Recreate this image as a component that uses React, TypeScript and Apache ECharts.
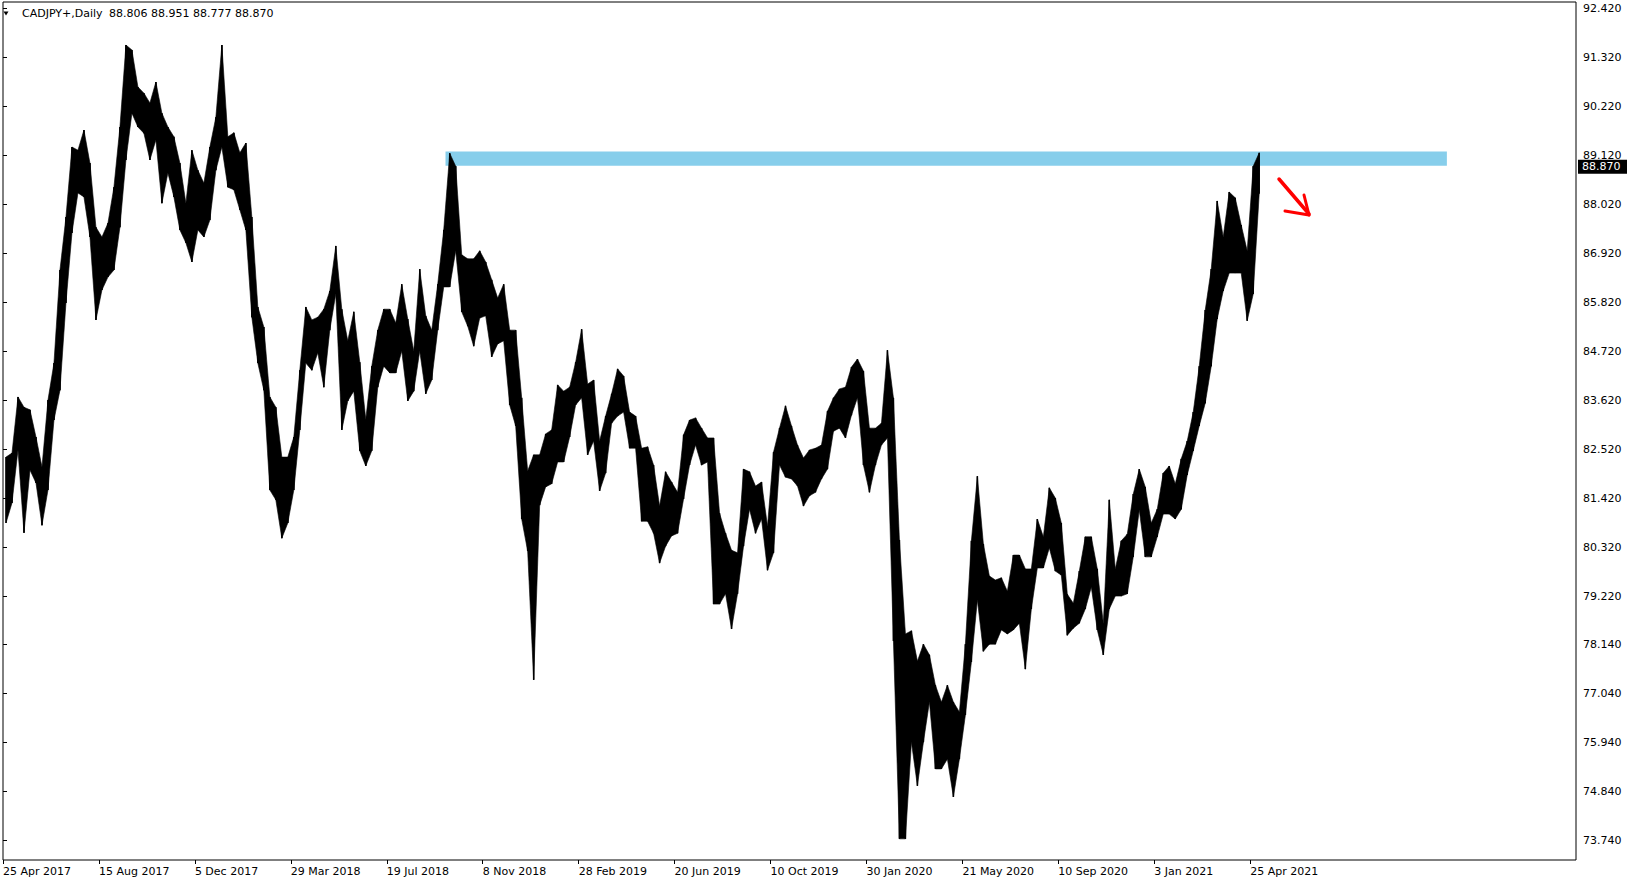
import React, { useEffect, useRef } from 'react';
import * as echarts from 'echarts';

// ---- data ----
const symbolTitle = 'CADJPY+,Daily';
const ohlcHeader = ['88.806', '88.951', '88.777', '88.870'];
const lastClose = 88.87;

// x-axis date labels, one every 16 samples
const dateLabels = [
  '25 Apr 2017', '15 Aug 2017', '5 Dec 2017', '29 Mar 2018', '19 Jul 2018', '8 Nov 2018',
  '28 Feb 2019', '20 Jun 2019', '10 Oct 2019', '30 Jan 2020', '21 May 2020', '10 Sep 2020',
  '3 Jan 2021', '25 Apr 2021',
];
const samplesPerLabel = 16;

// price-axis tick labels
const priceTicks = [
  73.74, 74.84, 75.94, 77.04, 78.14, 79.22, 80.32, 81.42, 82.52, 83.62, 84.72, 85.82,
  86.92, 88.02, 89.12, 90.22, 91.32, 92.42,
];

// sampled highs / lows (about one per week)
const highs = [
  82.35, 82.44, 83.70, 83.47, 83.41, 82.80, 82.13, 83.63, 84.46, 86.55,
  87.74, 89.31, 89.24, 89.69, 88.95, 87.51, 87.29, 87.60, 88.41, 89.76,
  91.60, 91.49, 90.66, 90.52, 90.30, 90.77, 90.07, 89.76, 89.54, 88.95,
  88.05, 89.24, 88.79, 88.50, 89.31, 89.98, 91.60, 89.54, 89.63, 89.18,
  89.40, 87.74, 85.72, 85.27, 83.70, 83.47, 82.35, 82.35, 82.80, 84.30,
  85.72, 85.43, 85.49, 85.67, 86.08, 87.09, 85.67, 84.96, 85.61, 84.48,
  83.20, 84.39, 85.20, 85.67, 85.67, 85.36, 86.23, 85.45, 84.73, 86.57,
  85.52, 85.20, 86.23, 87.45, 89.17, 88.88, 86.89, 86.80, 86.80, 86.98,
  86.73, 86.33, 85.92, 86.23, 85.20, 85.20, 83.68, 82.04, 82.40, 82.40,
  82.87, 82.96, 83.97, 83.83, 83.92, 84.48, 85.22, 83.99, 84.08, 82.71,
  83.27, 83.77, 84.33, 84.17, 83.36, 83.27, 82.55, 82.58, 82.17, 81.25,
  82.02, 81.79, 81.56, 82.85, 83.18, 83.23, 83.00, 82.78, 82.78, 81.09,
  80.64, 80.26, 80.20, 82.08, 82.02, 81.70, 81.79, 80.80, 82.46, 83.00,
  83.50, 83.05, 82.62, 82.33, 82.51, 82.55, 82.62, 83.38, 83.68, 83.88,
  83.92, 84.37, 84.55, 84.28, 83.00, 83.00, 83.11, 84.75, 83.68, 80.49,
  78.38, 78.45, 77.77, 78.15, 77.91, 77.23, 76.85, 77.23, 76.85, 76.63,
  78.15, 80.47, 81.92, 80.40, 79.68, 79.59, 79.64, 79.34, 80.15, 80.15,
  79.84, 79.84, 80.96, 80.56, 81.66, 81.43, 80.87, 79.27, 79.07, 79.79,
  80.56, 80.56, 79.84, 78.62, 81.39, 79.84, 80.47, 80.62, 81.52, 82.08,
  81.68, 80.87, 81.18, 81.99, 82.15, 81.75, 82.31, 82.71, 83.36, 84.39,
  85.65, 86.57, 88.10, 87.29, 88.30, 88.17, 87.56, 86.98, 88.88, 89.18,
];
const lows = [
  80.87, 81.32, 82.51, 80.65, 82.06, 81.77, 80.82, 81.61, 83.18, 83.85,
  85.81, 87.38, 88.28, 88.19, 87.29, 85.43, 86.10, 86.39, 86.55, 87.51,
  89.02, 90.07, 89.76, 89.62, 89.02, 89.47, 88.05, 88.73, 88.19, 87.45,
  87.16, 86.73, 87.45, 87.29, 87.67, 88.79, 89.31, 88.41, 88.35, 87.90,
  87.45, 85.49, 84.46, 83.85, 81.61, 81.39, 80.53, 80.87, 81.61, 82.96,
  84.46, 84.30, 84.69, 83.92, 85.20, 86.01, 82.96, 83.61, 83.83, 82.49,
  82.15, 82.49, 83.92, 84.39, 84.24, 84.24, 84.73, 83.61, 83.83, 84.73,
  83.77, 84.08, 85.20, 86.17, 86.17, 86.98, 85.61, 85.29, 84.84, 85.47,
  85.52, 84.60, 84.89, 84.96, 83.52, 83.05, 80.96, 80.24, 77.35, 81.27,
  81.68, 81.75, 82.24, 82.24, 82.80, 83.52, 83.68, 82.40, 82.71, 81.59,
  81.99, 83.11, 83.27, 83.36, 82.55, 82.55, 80.91, 80.91, 80.64, 79.97,
  80.35, 80.58, 80.64, 81.41, 82.17, 82.62, 82.17, 82.24, 79.05, 79.05,
  79.28, 78.49, 79.28, 80.35, 81.18, 80.64, 80.96, 79.81, 80.20, 82.17,
  81.90, 81.86, 81.70, 81.25, 81.48, 81.56, 81.86, 82.08, 82.93, 83.00,
  82.78, 83.29, 83.68, 82.17, 81.56, 82.17, 82.62, 82.78, 78.22, 73.78,
  73.78, 75.95, 74.97, 75.95, 76.85, 75.35, 75.35, 75.57, 74.72, 75.57,
  76.56, 77.75, 79.14, 77.99, 78.15, 78.15, 78.47, 78.38, 78.47, 78.62,
  77.59, 78.94, 79.86, 79.86, 80.31, 79.79, 79.70, 78.35, 78.51, 78.62,
  78.94, 79.43, 78.47, 77.91, 78.94, 79.23, 79.23, 79.28, 80.11, 81.16,
  80.11, 80.11, 80.56, 81.07, 81.07, 80.96, 81.18, 81.95, 82.49, 83.05,
  83.56, 84.39, 85.45, 86.08, 86.48, 86.48, 86.48, 85.41, 86.01, 88.26,
];

// resistance zone (price range) and its extent in sample units
const zonePrices = [88.89, 89.21];
const zoneSamples = [73.8, 240.8];

const FONT = "'DejaVu Sans', sans-serif";

export default function App() {
  const ref = useRef<HTMLDivElement>(null);

  useEffect(() => {
    const el = ref.current;
    if (!el) return;
    const chart = echarts.init(el, null, { renderer: 'svg' });

    const seriesData = highs.map((h, i) => [i, h, lows[i]]);
    const labelValues = dateLabels.map((_, k) => k * samplesPerLabel);
    const last = highs.length - 1;

    const renderItem = (params: any, api: any) => {
      const i = api.value(0);
      const hi = api.value(1);
      const lo = api.value(2);
      const a = api.coord([i + 0.5, hi]);
      const b = api.coord([i + 0.5, lo]);
      const children: any[] = [
        {
          type: 'line',
          shape: { x1: a[0], y1: a[1], x2: b[0], y2: b[1] },
          style: { stroke: '#000', lineWidth: 1.5 },
        },
      ];
      if (i < last) {
        const c = api.coord([i + 1.5, highs[i + 1]]);
        const d = api.coord([i + 1.5, lows[i + 1]]);
        children.push({
          type: 'polygon',
          shape: { points: [a, c, d, b] },
          style: { fill: '#000', stroke: '#000', lineWidth: 0.6 },
        });
      }
      return { type: 'group', children };
    };

    chart.setOption({
      animation: false,
      backgroundColor: '#ffffff',
      grid: {
        left: 2,
        top: 2,
        right: 57,
        bottom: 24,
        show: true,
        borderColor: '#000',
        borderWidth: 1,
        backgroundColor: 'transparent',
      },
      xAxis: {
        type: 'value',
        min: 0,
        max: 1574 / 6,
        splitLine: { show: false },
        axisLine: { show: false },
        axisTick: {
          show: true,
          customValues: labelValues,
          length: 4,
          lineStyle: { color: '#000' },
        },
        axisLabel: {
          customValues: labelValues,
          formatter: (v: number) => dateLabels[Math.round(v / samplesPerLabel)] ?? '',
          align: 'left',
          margin: 6,
          color: '#000',
          fontFamily: FONT,
          fontSize: 11,
        },
      },
      yAxis: {
        type: 'value',
        position: 'right',
        min: 73.305,
        max: 92.566,
        splitLine: { show: false },
        axisLine: { show: false },
        axisTick: {
          show: true,
          customValues: priceTicks,
          length: 4,
          lineStyle: { color: '#000' },
        },
        axisLabel: {
          customValues: priceTicks,
          formatter: (v: number) => v.toFixed(3),
          margin: 7,
          color: '#000',
          fontFamily: FONT,
          fontSize: 11,
        },
      },
      series: [
        {
          type: 'line',
          z: 1,
          data: [],
          silent: true,
          markArea: {
            silent: true,
            itemStyle: { color: '#87CEEB', opacity: 1 },
            data: [
              [
                { xAxis: zoneSamples[0], yAxis: zonePrices[1] },
                { xAxis: zoneSamples[1], yAxis: zonePrices[0] },
              ],
            ],
          },
        },
        {
          type: 'custom',
          z: 2,
          renderItem,
          data: seriesData,
          encode: { x: 0, y: [1, 2] },
          silent: true,
        },
      ],
    });

    // current-price tag, positioned through the price scale
    const py = chart.convertToPixel({ yAxisIndex: 0 }, lastClose) as number;
    const px = chart.convertToPixel({ xAxisIndex: 0 }, 1574 / 6) as number;

    chart.setOption({
      graphic: [
        {
          type: 'polygon',
          shape: { points: [[3.5, 11.5], [8.5, 11.5], [6, 15.5]] },
          style: { fill: '#000' },
        },
        {
          type: 'text',
          x: 22,
          y: 13,
          style: {
            text: symbolTitle,
            fill: '#000',
            font: `11px ${FONT}`,
            textVerticalAlign: 'middle',
            verticalAlign: 'middle',
          },
        },
        {
          type: 'text',
          x: 109,
          y: 13,
          style: {
            text: ohlcHeader.join(' '),
            fill: '#000',
            font: `11px ${FONT}`,
            textVerticalAlign: 'middle',
            verticalAlign: 'middle',
          },
        },
        {
          type: 'rect',
          z: 100,
          shape: { x: px + 2, y: py - 7, width: 49, height: 14 },
          style: { fill: '#000' },
        },
        {
          type: 'text',
          z: 101,
          x: px + 6,
          y: py,
          style: {
            text: lastClose.toFixed(3),
            fill: '#fff',
            font: `11px ${FONT}`,
            textVerticalAlign: 'middle',
            verticalAlign: 'middle',
          },
        },
        {
          type: 'polyline',
          shape: { points: [[1279, 179], [1309, 214]] },
          style: { stroke: '#ff0000', lineWidth: 3.5, lineCap: 'round' },
        },
        {
          type: 'polyline',
          shape: { points: [[1285, 211], [1309, 215]] },
          style: { stroke: '#ff0000', lineWidth: 3, lineCap: 'round' },
        },
        {
          type: 'polyline',
          shape: { points: [[1304, 195], [1309, 215]] },
          style: { stroke: '#ff0000', lineWidth: 3, lineCap: 'round' },
        },
      ],
    });

    return () => chart.dispose();
  }, []);

  return (
    <div
      ref={ref}
      style={{ position: 'fixed', left: 0, top: 0, width: 1633, height: 884, background: '#fff' }}
    />
  );
}
